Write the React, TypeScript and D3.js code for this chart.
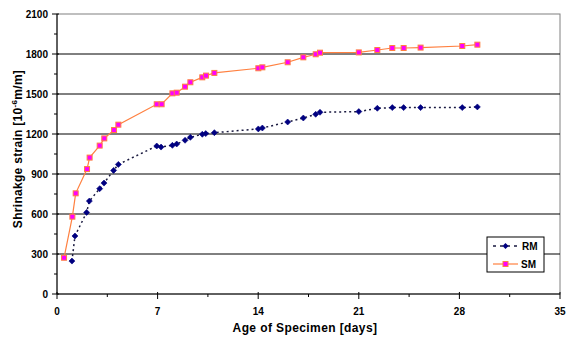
import React from "react";
import * as d3 from "d3";

const rmDays = [1.04, 1.25, 2.06, 2.25, 2.97, 3.27, 3.94, 4.27, 6.94, 7.24, 8.03, 8.33, 8.91, 9.28, 10.11, 10.35, 10.95, 14.01, 14.29, 16.05, 17.14, 18.0, 18.3, 21.0, 22.29, 23.33, 24.12, 25.3, 28.2, 29.25];
const rmValues = [247, 435, 612, 697, 790, 832, 927, 972, 1110, 1102, 1115, 1125, 1153, 1175, 1198, 1203, 1210, 1238, 1245, 1290, 1320, 1348, 1363, 1368, 1393, 1398, 1398, 1398, 1398, 1403];
const smDays = [0.49, 1.07, 1.3, 2.09, 2.27, 2.97, 3.29, 3.97, 4.27, 6.94, 7.28, 8.03, 8.33, 8.91, 9.28, 10.11, 10.37, 10.95, 14.01, 14.29, 16.05, 17.14, 18.0, 18.3, 21.0, 22.29, 23.33, 24.12, 25.3, 28.2, 29.25];
const smValues = [272, 580, 755, 937, 1023, 1113, 1167, 1230, 1270, 1423, 1423, 1505, 1510, 1555, 1588, 1625, 1638, 1658, 1693, 1700, 1738, 1775, 1798, 1810, 1812, 1830, 1845, 1845, 1848, 1860, 1870];
const xTicks = [0, 7, 14, 21, 28, 35];
const xMinorTicks = [3.5, 10.5, 17.5, 24.5, 31.5];
const yTicks = [0, 300, 600, 900, 1200, 1500, 1800, 2100];
const yMinorTicks = [150, 450, 750, 1050, 1350, 1650, 1950];
const seriesNames = ["RM", "SM"];

export default function App() {
  const W = 566, H = 340;
  const x = d3.scaleLinear().domain([0, 35]).range([57, 560]);
  const y = d3.scaleLinear().domain([0, 2100]).range([294, 14]);
  const font = "'Liberation Sans', Arial, sans-serif";

  const rm = rmDays.map((d, i) => [d, rmValues[i]] as [number, number]);
  const sm = smDays.map((d, i) => [d, smValues[i]] as [number, number]);
  const line = d3.line<[number, number]>().x(d => x(d[0])).y(d => y(d[1]));

  const diamond = (cx: number, cy: number, r = 3) =>
    `M${cx},${cy - r}L${cx + r},${cy}L${cx},${cy + r}L${cx - r},${cy}Z`;

  return (
    <svg width={W} height={H} style={{ position: "absolute", left: 0, top: 0 }} fontFamily={font}>
      <rect x={0} y={0} width={W} height={H} fill="#fff" />
      {/* plot border */}
      <rect x={x(0)} y={y(2100)} width={x(35) - x(0)} height={y(0) - y(2100)} fill="none" stroke="#808080" strokeWidth={1} />
      {/* gridlines */}
      {yTicks.filter(t => t > 0 && t < 2100).map(t => (
        <line key={t} x1={x(0)} x2={x(35)} y1={y(t)} y2={y(t)} stroke="#000" strokeWidth={1} />
      ))}
      {/* axes */}
      <line x1={x(0)} x2={x(0)} y1={y(0)} y2={y(2100)} stroke="#000" />
      <line x1={x(0)} x2={x(35)} y1={y(0)} y2={y(0)} stroke="#000" />
      {yTicks.map(t => (
        <g key={t}>
          <line x1={x(0) - 5} x2={x(0) + 2} y1={y(t)} y2={y(t)} stroke="#000" />
          <text x={48} y={y(t) + 3.5} textAnchor="end" fontSize={10} fontWeight="bold">{t}</text>
        </g>
      ))}
      {yMinorTicks.map(t => (
        <line key={t} x1={x(0) - 3} x2={x(0)} y1={y(t)} y2={y(t)} stroke="#000" />
      ))}
      {xTicks.map(t => (
        <g key={t}>
          <line x1={x(t)} x2={x(t)} y1={y(0) - 2} y2={y(0) + 5} stroke="#000" />
          <text x={x(t)} y={315} textAnchor="middle" fontSize={10} fontWeight="bold">{t}</text>
        </g>
      ))}
      {xMinorTicks.map(t => (
        <line key={t} x1={x(t)} x2={x(t)} y1={y(0)} y2={y(0) + 3} stroke="#000" />
      ))}
      {/* axis titles */}
      <text x={305} y={332} textAnchor="middle" fontSize={12} letterSpacing={0.4} fontWeight="bold">Age of Specimen [days]</text>
      <text transform={`translate(22,149) rotate(-90)`} textAnchor="middle" fontSize={12} letterSpacing={0.3} fontWeight="bold">
        Shrinakge strain [10<tspan dy={-5} fontSize={8}>-6</tspan><tspan dy={5}>m/m]</tspan>
      </text>
      {/* RM series */}
      <path d={line(rm) || ""} fill="none" stroke="#1a1a40" strokeWidth={1.5} strokeDasharray="2,3" />
      {rm.map((d, i) => (
        <path key={i} d={diamond(x(d[0]), y(d[1]))} fill="#000080" stroke="#000080" strokeWidth={0.6} />
      ))}
      {/* SM series */}
      <path d={line(sm) || ""} fill="none" stroke="#ff8040" strokeWidth={1.2} />
      {sm.map((d, i) => (
        <rect key={i} x={x(d[0]) - 2.5} y={y(d[1]) - 2.5} width={5} height={5} fill="#ff00ff" stroke="#ff8040" strokeWidth={1} />
      ))}
      {/* legend */}
      <rect x={487} y={237} width={57} height={35} fill="#fff" stroke="#000" strokeWidth={1} />
      <line x1={493} x2={518} y1={246} y2={246} stroke="#1a1a40" strokeWidth={1.5} strokeDasharray="3,4" />
      <path d={diamond(505.5, 246)} fill="#000080" />
      <text x={522} y={249.5} fontSize={10} fontWeight="bold">{seriesNames[0]}</text>
      <line x1={493} x2={518} y1={264} y2={264} stroke="#ff8040" strokeWidth={1.2} />
      <rect x={503} y={261.5} width={5} height={5} fill="#ff00ff" stroke="#ff8040" strokeWidth={1} />
      <text x={521} y={267.5} fontSize={10} fontWeight="bold">{seriesNames[1]}</text>
    </svg>
  );
}
